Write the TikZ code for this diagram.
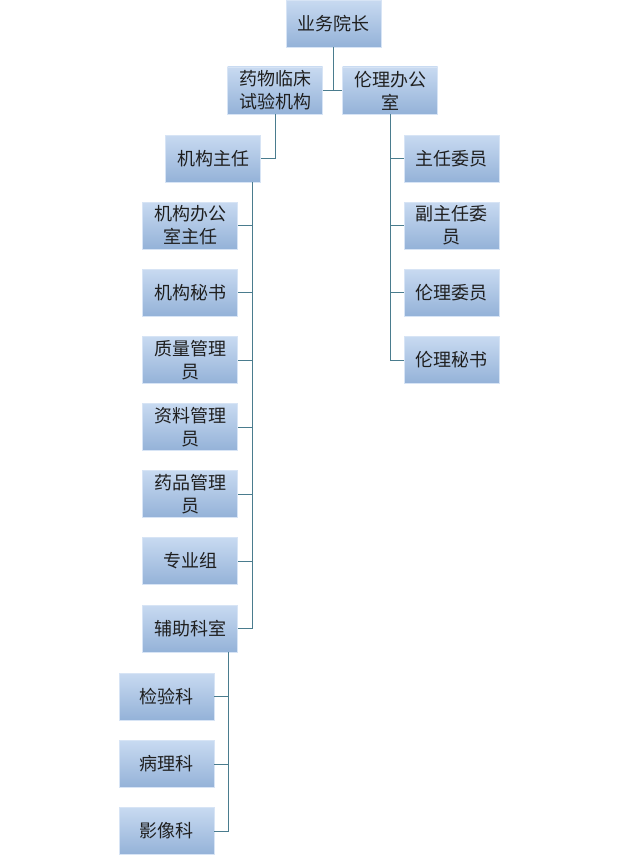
\documentclass[tikz,border=0pt]{standalone}
\usepackage{fontspec}
\setmainfont{Noto Sans CJK SC}
\definecolor{boxtop}{RGB}{200,218,241}
\definecolor{boxbot}{RGB}{148,178,216}
\definecolor{boxedge}{RGB}{215,228,245}
\definecolor{linkc}{RGB}{74,124,142}
\begin{document}
\begin{tikzpicture}[x=1pt,y=-1pt,
  orgbox/.style={rectangle, top color=boxtop, bottom color=boxbot, draw=boxedge, line width=0.6pt,
    minimum width=95pt, minimum height=47pt, inner sep=0pt, align=center,
    text=black!88, font=\fontsize{18pt}{23pt}\selectfont},
  link/.style={draw=linkc, line width=0.9pt}]
\useasboundingbox (0,0) rectangle (619,856);
\node[orgbox] (top) at (333.5,23.5) {业务院长};
\node[orgbox] (yw) at (275,90.5) {药物临床\\试验机构};
\node[orgbox] (ll) at (390,90.5) {伦理办公\\室};
\node[orgbox] (jz) at (213,158.5) {机构主任};
\node[orgbox] (r1) at (451.5,158.5) {主任委员};
\node[orgbox] (r2) at (451.5,225.5) {副主任委\\员};
\node[orgbox] (r3) at (451.5,292.5) {伦理委员};
\node[orgbox] (r4) at (451.5,360) {伦理秘书};
\node[orgbox] (l1) at (190,225.5) {机构办公\\室主任};
\node[orgbox] (l2) at (190,292.5) {机构秘书};
\node[orgbox] (l3) at (190,360) {质量管理\\员};
\node[orgbox] (l4) at (190,427) {资料管理\\员};
\node[orgbox] (l5) at (190,494) {药品管理\\员};
\node[orgbox] (l6) at (190,561) {专业组};
\node[orgbox] (l7) at (190,628.5) {辅助科室};
\node[orgbox] (b1) at (166.5,696.5) {检验科};
\node[orgbox] (b2) at (166.5,764) {病理科};
\node[orgbox] (b3) at (166.5,831) {影像科};
\coordinate (jzs) at ([xshift=39pt]jz.south);
\coordinate (fzs) at ([xshift=38pt]l7.south);
\draw[link] (top.south) -- (top.south |- yw.east);
\draw[link] (yw.east) -- (ll.west);
\draw[link] (yw.south) |- (jz.east);
\foreach \n in {l1,l2,l3,l4,l5,l6,l7} \draw[link] (jzs) |- (\n.east);
\foreach \n in {r1,r2,r3,r4} \draw[link] (ll.south) |- (\n.west);
\foreach \n in {b1,b2,b3} \draw[link] (fzs) |- (\n.east);
\end{tikzpicture}
\end{document}
